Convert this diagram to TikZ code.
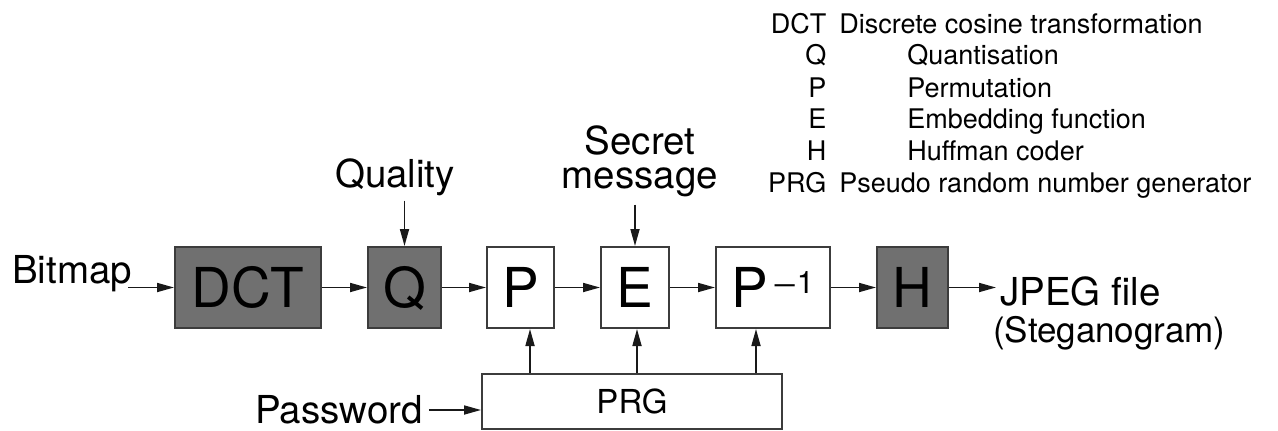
\documentclass[tikz,border=0pt]{standalone}
\usepackage{graphicx}
\usepackage{fontspec}
\setmainfont{TeX Gyre Heros}
\usetikzlibrary{arrows.meta}
\definecolor{boxfill}{RGB}{112,112,112}
\definecolor{edge}{RGB}{60,60,60}
\newcommand\supsize{\fontsize{31}{31}\selectfont}
\begin{document}
\begin{tikzpicture}[x=1pt,y=-1pt,
  blk/.style={draw=edge,line width=2pt,minimum height=81pt,inner sep=0pt,
    font=\fontsize{55}{55}\selectfont,text height=39.5pt,text depth=0pt},
  dark/.style={blk,fill=boxfill},
  light/.style={blk,fill=white},
  lbl/.style={inner sep=0pt,font=\fontsize{38.5}{34}\selectfont},
  arr/.style={line width=1.7pt,draw=black!90,-{Triangle[length=17pt,width=9pt]}}]
\useasboundingbox (0,0) rectangle (1278,431);
\fill[white] (0,0) rectangle (1278,431);
% blocks
\node[dark,minimum width=146pt] (dct) at (248,287.5) {DCT};
\node[dark,minimum width=73pt] (q) at (404.5,287.5) {Q};
\node[light,minimum width=67pt] (p) at (520.5,287.5) {P};
\node[light,minimum width=68pt] (e) at (635,287.5) {E};
\node[light,minimum width=114pt] (pinv) at (773,287.5)
  {P\hspace{3pt}\raisebox{14pt}{\supsize\scalebox{1.45}[1]{−}\hspace{-1pt}1}};
\node[dark,minimum width=71pt] (h) at (912.5,287.5) {H};
\node[light,minimum width=300pt,minimum height=55pt,font=\fontsize{33}{33}\selectfont,text height=23.7pt] (prg) at (632,401.5) {PRG};
% labels
\node[lbl,anchor=base west] (bitmap) at (12,283) {Bitmap};
\node[lbl,anchor=base west] (password) at (255,423) {Password};
\node[lbl,anchor=base] (quality) at (395,187) {Quality};
\node[lbl,anchor=base,align=center] (secret) at (640,188) {Secret\\message};
\node[inner sep=0pt,anchor=base west,align=left,font=\fontsize{38.5}{37}\selectfont] (jpeg) at (1000,342)
  {JPEG file\\\hspace*{-7pt}{\fontsize{35}{37}\selectfont(Steganogram)}};
% legend
\node[anchor=base west,inner sep=0pt,font=\fontsize{27}{32}\selectfont] (legend) at (768,33)
  {\begin{tabular}[t]{@{}r@{\hspace{13pt}}l@{}}
   DCT & Discrete cosine transformation\\
   Q & \hspace{68pt}Quantisation\\
   P & \hspace{68pt}Permutation\\
   E & \hspace{68pt}Embedding function\\
   H & \hspace{68pt}Huffman coder\\
   PRG & Pseudo random number generator
   \end{tabular}};
% connectors
\draw[arr] ([xshift=-4pt]bitmap.east |- dct.west) -- (dct.west);
\draw[arr] (dct) -- (q);
\draw[arr] (q) -- (p);
\draw[arr] (p) -- (e);
\draw[arr] (e) -- (pinv);
\draw[arr] (pinv) -- (h);
\draw[arr] (h.east) -- ([xshift=-4pt]jpeg.west |- h.east);
\draw[arr] ([xshift=9.5pt]p.south |- prg.north) -- ([xshift=9.5pt]p.south);
\draw[arr] ([xshift=2pt]e.south |- prg.north) -- ([xshift=2pt]e.south);
\draw[arr] ([xshift=-17pt]pinv.south |- prg.north) -- ([xshift=-17pt]pinv.south);
\draw[arr] ([yshift=-5pt]quality.south -| q.north) -- (q.north);
\draw[arr] ([yshift=-8pt]secret.south -| e.north) -- (e.north);
\coordinate (pin) at ([yshift=-8.5pt]prg.west);
\draw[arr] ([xshift=6pt]password.east |- pin) -- (pin);
\end{tikzpicture}
\end{document}
